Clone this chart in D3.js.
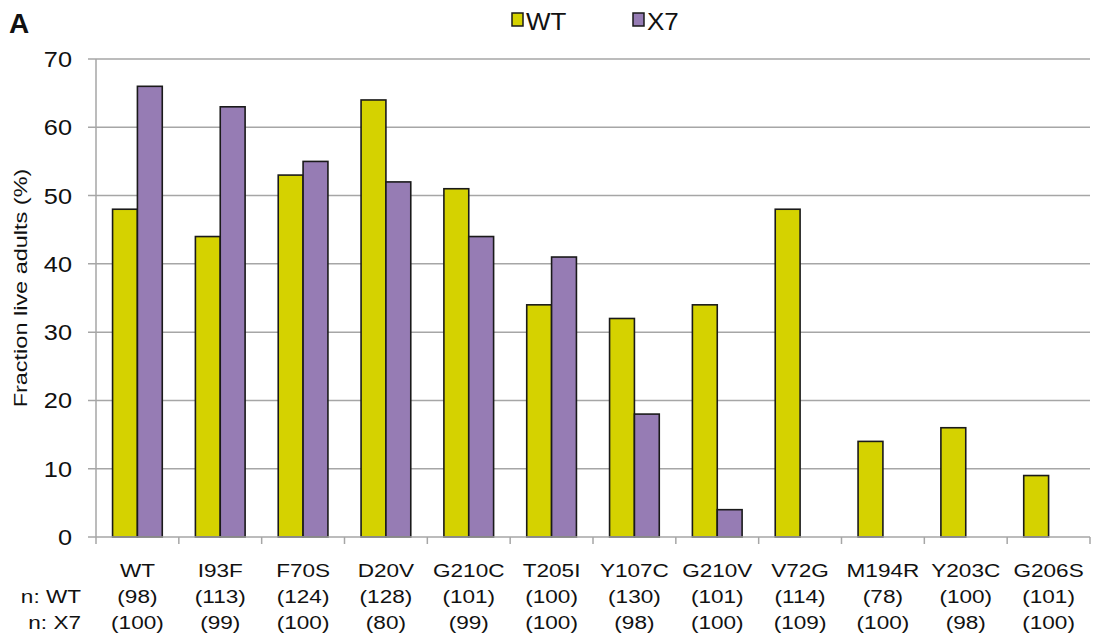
<!DOCTYPE html>
<html>
<head>
<meta charset="utf-8">
<script src="https://cdn.jsdelivr.net/npm/d3@7"></script>
<style>
  body { margin: 0; background: #fff; }
  text { font-family: "Liberation Sans", Arial, sans-serif; fill: #111; }
</style>
</head>
<body>
<script>
// categories and values
var categories = ["WT", "I93F", "F70S", "D20V", "G210C", "T205I", "Y107C", "G210V", "V72G", "M194R", "Y203C", "G206S"];
var wtValues = [48, 44, 53, 64, 51, 34, 32, 34, 48, 14, 16, 9];
var x7Values = [66, 63, 55, 52, 44, 41, 18, 4, null, null, null, null];
var nWT = ["(98)", "(113)", "(124)", "(128)", "(101)", "(100)", "(130)", "(101)", "(114)", "(78)", "(100)", "(101)"];
var nX7 = ["(100)", "(99)", "(100)", "(80)", "(99)", "(100)", "(98)", "(100)", "(109)", "(100)", "(98)", "(100)"];
var series = ["WT", "X7"];
var yTicks = [0, 10, 20, 30, 40, 50, 60, 70];

var colors = {WT: "#d5d200", X7: "#967cb4"};

var w = 1103, h = 638;
var margin = {top: 59, right: 13, bottom: 101, left: 96};

// the source figure's type is a bit wider than Arial, so stretch it
var stretch = 1.22;

var svg = d3.select("body").append("svg")
  .attr("width", w)
  .attr("height", h);

var x0 = d3.scaleBand()
  .domain(categories)
  .range([margin.left, w - margin.right]);

var x1 = d3.scaleBand()
  .domain(series)
  .range([x0.bandwidth() * 0.2, x0.bandwidth() * 0.8]);

var y = d3.scaleLinear()
  .domain([0, 70])
  .range([h - margin.bottom, margin.top]);

// gridlines
svg.append("g")
  .selectAll("line")
  .data(yTicks.filter(function (d) { return d > 0; }))
  .enter().append("line")
  .attr("x1", margin.left - 8)
  .attr("x2", w - margin.right)
  .attr("y1", function (d) { return y(d); })
  .attr("y2", function (d) { return y(d); })
  .attr("stroke", "#a6a6a6")
  .attr("stroke-width", 1.5);

// y axis line
svg.append("line")
  .attr("x1", margin.left).attr("x2", margin.left)
  .attr("y1", y(70)).attr("y2", y(0))
  .attr("stroke", "#a6a6a6")
  .attr("stroke-width", 1.5);

// y tick labels
svg.append("g")
  .selectAll("text")
  .data(yTicks)
  .enter().append("text")
  .attr("transform", function (d) { return "translate(72," + y(d) + ") scale(1.15,1)"; })
  .attr("dy", "0.36em")
  .attr("text-anchor", "end")
  .attr("font-size", "22px")
  .text(function (d) { return d; });

// y title
svg.append("text")
  .attr("transform", "translate(27,288) rotate(-90) scale(1.27,1)")
  .attr("text-anchor", "middle")
  .attr("font-size", "18.5px")
  .text("Fraction live adults (%)");

// bars
var rows = categories.map(function (c, i) {
  return {cat: c, vals: [{s: "WT", v: wtValues[i]}, {s: "X7", v: x7Values[i]}]};
});

var groups = svg.append("g")
  .selectAll("g")
  .data(rows)
  .enter().append("g")
  .attr("transform", function (d) { return "translate(" + x0(d.cat) + ",0)"; });

groups.selectAll("rect")
  .data(function (d) { return d.vals.filter(function (e) { return e.v != null; }); })
  .enter().append("rect")
  .attr("x", function (d) { return x1(d.s); })
  .attr("width", x1.bandwidth())
  .attr("y", function (d) { return y(d.v); })
  .attr("height", function (d) { return y(0) - y(d.v); })
  .attr("fill", function (d) { return colors[d.s]; })
  .attr("stroke", "#1a1a1a")
  .attr("stroke-width", 1.6);

// x axis line + ticks
svg.append("line")
  .attr("x1", margin.left - 8).attr("x2", w - margin.right)
  .attr("y1", y(0)).attr("y2", y(0))
  .attr("stroke", "#a6a6a6")
  .attr("stroke-width", 1.5);

var tickPos = categories.map(function (c) { return x0(c); }).concat([w - margin.right]);
svg.append("g")
  .selectAll("line")
  .data(tickPos)
  .enter().append("line")
  .attr("x1", function (d) { return d; })
  .attr("x2", function (d) { return d; })
  .attr("y1", y(0))
  .attr("y2", y(0) + 7)
  .attr("stroke", "#a6a6a6")
  .attr("stroke-width", 1.5);

// category labels and n rows
var labelRows = [categories, nWT, nX7];
var rowY = [577, 603, 629];
labelRows.forEach(function (arr, r) {
  svg.append("g")
    .selectAll("text")
    .data(arr)
    .enter().append("text")
    .attr("transform", function (d, i) {
      return "translate(" + (x0(categories[i]) + x0.bandwidth() / 2) + "," + rowY[r] + ") scale(" + stretch + ",1)";
    })
    .attr("text-anchor", "middle")
    .attr("font-size", "18.5px")
    .text(function (d) { return d; });
});

["n: WT", "n: X7"].forEach(function (t, i) {
  svg.append("text")
    .attr("transform", "translate(81," + rowY[i + 1] + ") scale(" + stretch + ",1)")
    .attr("text-anchor", "end")
    .attr("font-size", "18.5px")
    .text(t);
});

// panel letter
svg.append("text")
  .attr("x", 9).attr("y", 33)
  .attr("font-size", "28px")
  .attr("font-weight", "bold")
  .text("A");

// legend
var legendX = [512, 633];
var legend = svg.append("g")
  .selectAll("g")
  .data(series)
  .enter().append("g")
  .attr("transform", function (d, i) { return "translate(" + legendX[i] + ",13)"; });

legend.append("rect")
  .attr("width", 11).attr("height", 13)
  .attr("fill", function (d) { return colors[d]; })
  .attr("stroke", "#1a1a1a")
  .attr("stroke-width", 1.5);

legend.append("text")
  .attr("transform", "translate(14,17) scale(1.13,1)")
  .attr("font-size", "23px")
  .text(function (d) { return d; });
</script>
</body>
</html>
